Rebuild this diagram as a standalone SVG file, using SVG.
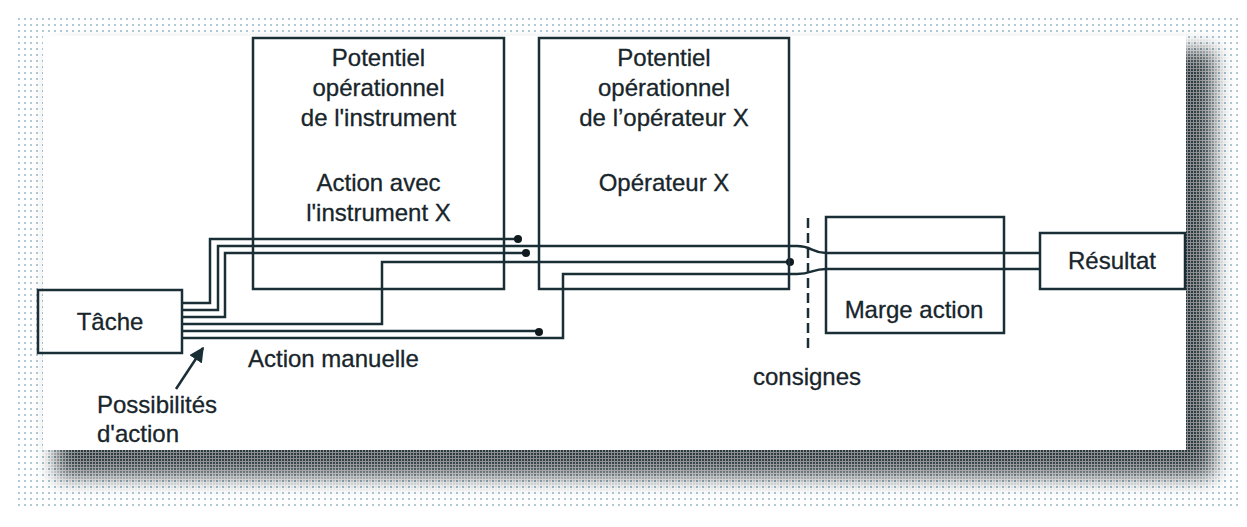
<svg xmlns="http://www.w3.org/2000/svg" width="1247" height="527" viewBox="0 0 1247 527">
<style>
.box{fill:none;stroke:#1a2e35;stroke-width:2.5}
.ln{fill:none;stroke:#1a2e35;stroke-width:2.5}
.t{font-family:"Liberation Sans",Arial,sans-serif;font-size:24px;fill:#18252b;stroke:#18252b;stroke-width:0.3}
.c{text-anchor:middle}
.dot{fill:#111a1e}
</style>
<defs>
<pattern id="dots" width="3" height="3" patternUnits="userSpaceOnUse">
<rect width="3" height="3" fill="#8c8c8c"/>
<rect width="2" height="2" fill="#2a3a42"/>
</pattern>
<pattern id="fdots" width="6" height="6" patternUnits="userSpaceOnUse">
<rect width="2" height="2" fill="#6f9fb5"/>
</pattern>
<filter id="blur" x="-10%" y="-10%" width="120%" height="120%">
<feGaussianBlur stdDeviation="10"/>
</filter>
<mask id="shm">
<rect x="56" y="50" width="1158" height="427" fill="#fff" filter="url(#blur)"/>
</mask>
<mask id="fm">
<rect x="14" y="16" width="1228" height="494" fill="#fff" fill-opacity="0.55"/>
</mask>
<marker id="arr" viewBox="0 0 10 10" refX="9" refY="5" markerWidth="6" markerHeight="6" orient="auto">
<path d="M0,0 L10,5 L0,10 z" fill="#1a2e35"/>
</marker>
</defs>
<rect width="1247" height="527" fill="#fff"/>
<g id="frame">
<rect width="1247" height="527" fill="url(#fdots)" mask="url(#fm)"/>
<rect width="1247" height="527" fill="url(#dots)" mask="url(#shm)"/>
<rect x="43" y="36" width="1143" height="414" fill="#fff"/>
</g>
<g id="connectors">
<path class="ln" d="M182,303 H210 V239 H518"/>
<path class="ln" d="M182,310 H218 V246 H797 C812,246 812,253 826,253 H1040"/>
<path class="ln" d="M182,317 H225 V253 H526"/>
<path class="ln" d="M182,324 H382 V262 H790"/>
<path class="ln" d="M182,331 H539"/>
<path class="ln" d="M182,338 H563 V274 H797 C812,274 812,269 826,269 H1040"/>
<circle class="dot" cx="518" cy="239" r="4"/>
<circle class="dot" cx="526" cy="253" r="4"/>
<circle class="dot" cx="539" cy="332" r="4"/>
<circle class="dot" cx="790" cy="262" r="4"/>
<line x1="808" y1="218" x2="808" y2="348" stroke="#1a2e35" stroke-width="2.5" stroke-dasharray="10,5"/>
<line x1="176" y1="389" x2="203" y2="348" stroke="#1a2e35" stroke-width="2.5" marker-end="url(#arr)"/>
</g>
<g id="tache">
<rect class="box" x="38" y="290" width="144" height="63"/>
<text class="t c" x="110" y="330">Tâche</text>
</g>
<g id="instrument">
<rect class="box" x="253" y="38" width="251" height="251"/>
<text class="t c" x="378.5" y="66">Potentiel</text>
<text class="t c" x="378.5" y="96">opérationnel</text>
<text class="t c" x="378.5" y="126">de l'instrument</text>
<text class="t c" x="378.5" y="191">Action avec</text>
<text class="t c" x="378.5" y="221">l'instrument X</text>
</g>
<g id="operateur">
<rect class="box" x="539" y="38" width="250" height="251"/>
<text class="t c" x="664" y="66">Potentiel</text>
<text class="t c" x="664" y="96">opérationnel</text>
<text class="t c" x="664" y="126">de l’opérateur X</text>
<text class="t c" x="664" y="191">Opérateur X</text>
</g>
<g id="marge">
<rect class="box" x="826" y="217" width="178" height="116"/>
<text class="t c" x="914" y="318">Marge action</text>
</g>
<g id="resultat">
<rect class="box" x="1040" y="233" width="145" height="56"/>
<text class="t c" x="1112" y="269">Résultat</text>
</g>
<g id="labels">
<text class="t" x="248" y="367">Action manuelle</text>
<text class="t c" x="807" y="385">consignes</text>
<text class="t" x="97" y="413">Possibilités</text>
<text class="t" x="97" y="442">d'action</text>
</g>
</svg>
